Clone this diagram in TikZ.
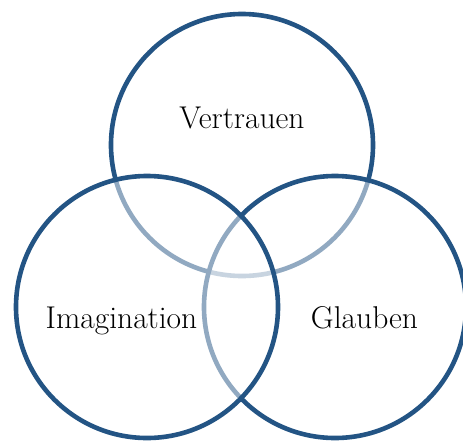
\documentclass[tikz,border=0pt]{standalone}
\usepackage{fontspec}
\begin{document}
\begin{tikzpicture}[x=1pt,y=-1pt]
\definecolor{ring}{RGB}{35,84,132}
\tikzset{
  ringstyle/.style={draw=ring, line width=4.6pt, fill=white, fill opacity=0.5},
  label/.style={anchor=base, font=\fontsize{31.5}{36}\selectfont, text=black, inner sep=0pt}
}
\useasboundingbox (0,0) rectangle (463,440);
\path[ringstyle] (242,145) circle[radius=131];
\path[ringstyle] (335,307) circle[radius=131];
\path[ringstyle] (147,307) circle[radius=131];
\node[label] (vertrauen) at (242,128) {Vertrauen};
\node[label] (imagination) at (121.5,328) {Imagination};
\node[label] (glauben) at (364.5,328) {Glauben};
\end{tikzpicture}
\end{document}
